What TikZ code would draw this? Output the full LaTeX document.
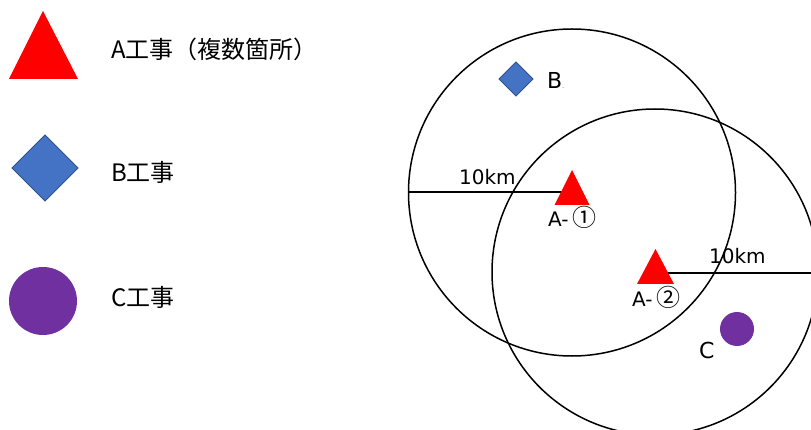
\documentclass[tikz,border=0pt]{standalone}
\usepackage{fontspec}
\setmainfont{DejaVu Sans}
\newfontfamily\jp{Noto Sans CJK JP}
\definecolor{bblue}{HTML}{4472C4}
\definecolor{bborder}{HTML}{2F528F}
\definecolor{cpurple}{HTML}{7030A0}
\begin{document}
\begin{tikzpicture}[x=1pt,y=-1pt,
  ring/.style={draw=black, line width=1.5pt},
  radius line/.style={draw=black, line width=1.5pt},
  lab/.style={font=\fontsize{20}{24}\selectfont, anchor=base west, inner sep=0pt},
  big lab/.style={font=\fontsize{22}{26}\selectfont, anchor=base west, inner sep=0pt},
  leg/.style={font=\jp\fontsize{24}{28}\selectfont, anchor=base west, inner sep=0pt},
  atri/.style={fill=red},
  bdia/.style={fill=bblue, draw=bborder, line width=0.8pt},
  cdot/.style={fill=cpurple}]
\useasboundingbox (0,0) rectangle (811,430);
\clip (0,0) rectangle (811,430);
% legend
\fill[atri] (43,11) -- (78,79) -- (9,79) -- cycle;
\node[leg] (legA) at (111,59) {A工事（複数箇所）};
\filldraw[bdia] (45,135) -- (78,168) -- (45,201) -- (12,168) -- cycle;
\node[leg] (legB) at (111,182) {B工事};
\fill[cdot] (43,301) circle (34);
\node[leg] (legC) at (111,306) {C工事};
% circles
\coordinate (c1) at (572,192.5);
\coordinate (c2) at (655,272);
\draw[ring] (c1) circle (163.5);
\draw[ring] (c2) circle (163);
\coordinate (e1) at (408.5,192);
\coordinate (e2) at (815,273);
\coordinate (a1) at (572,192);
\coordinate (a2) at (655,273);
\draw[radius line] (e1) -- (a1);
\draw[radius line] (a2) -- (e2);
\node[lab] (km1) at (459,185) {10km};
\node[lab] (km2) at (709,264) {10km};
% sites
\fill[atri] (572,170) -- (589.5,205) -- (554.5,205) -- cycle;
\node[lab] (lA1) at (548,227) {A-\hspace{4pt}{\jp\fontsize{24}{28}\selectfont ①}};
\fill[atri] (655.5,249) -- (674,284) -- (637,284) -- cycle;
\node[lab] (lA2) at (632,307) {A-\hspace{4pt}{\jp\fontsize{24}{28}\selectfont ②}};
\filldraw[bdia] (516,62) -- (533,79) -- (516,96) -- (499,79) -- cycle;
\node[big lab] (lB) at (547,89) {B{\fontsize{5}{6}\selectfont .}};
\fill[cdot] (737,329) circle (17);
\node[big lab] (lC) at (699,358) {C};
\end{tikzpicture}
\end{document}
